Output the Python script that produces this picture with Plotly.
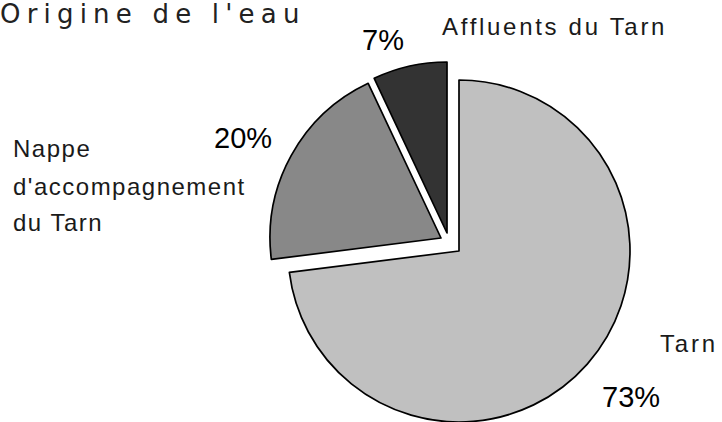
import plotly.graph_objects as go

# ---- data ----
title_text = "Origine de l'eau"
categories = ["Tarn", "Nappe d'accompagnement du Tarn", "Affluents du Tarn"]
values = [73, 20, 7]
label_lines = [["Tarn"], ["Nappe", "d'accompagnement", "du Tarn"], ["Affluents du Tarn"]]
slice_colors = ["#c0c0c0", "#888888", "#333333"]

W, H = 722, 422
R = 171
# apex (pixel) of each exploded slice
apex = [(459, 251), (441, 238), (447, 233)]

fig = go.Figure()
CLEAR = "rgba(0,0,0,0)"
for i in range(len(values)):
    cx, cy = apex[i]
    cols = [slice_colors[j] if j == i else CLEAR for j in range(len(values))]
    lcols = ["black" if j == i else CLEAR for j in range(len(values))]
    fig.add_trace(go.Pie(
        labels=categories, values=values, sort=False, direction="clockwise",
        rotation=0, textinfo="none", hoverinfo="label+percent",
        marker=dict(colors=cols, line=dict(color=lcols, width=1.7)),
        domain=dict(x=[(cx - R) / W, (cx + R) / W],
                    y=[(H - (cy + R)) / H, (H - (cy - R)) / H]),
        showlegend=False,
    ))

def ann(text, px, py, size, xanchor="left", family="Liberation Sans", weight=400, spacing=0, color="#000"):
    if spacing:
        text = f'<span style="letter-spacing:{spacing}px">{text}</span>'
    fig.add_annotation(text=text, x=px / W, y=1 - py / H, xref="paper", yref="paper",
                       xanchor=xanchor, yanchor="middle", showarrow=False,
                       font=dict(family=family, size=size, color=color, weight=weight))

# title
ann(title_text, -2, 14, 26, family="DejaVu Sans", spacing=6.2, color="#222")
# category labels
ann(label_lines[2][0], 440, 27, 24, spacing=2.7, color="#1a1a1a")
for k, (line, y) in enumerate(zip(label_lines[1], [148, 186, 223])):
    ann(line, 11, y, 24, spacing=1.5, color="#1a1a1a")
ann(label_lines[0][0], 658, 343, 24, spacing=2.8, color="#1a1a1a")
# percentages
pct_pos = [(631, 397), (243, 138), (383, 40)]
for v, (x, y) in zip(values, pct_pos):
    ann(f"{v}%", x, y, 29, xanchor="center")

fig.update_layout(width=W, height=H, margin=dict(l=0, r=0, t=0, b=0),
                  paper_bgcolor="white", plot_bgcolor="white")
fig.write_html("out.html", config={"displayModeBar": False},
               post_script="document.body.style.margin='0';document.body.style.overflow='hidden';")
